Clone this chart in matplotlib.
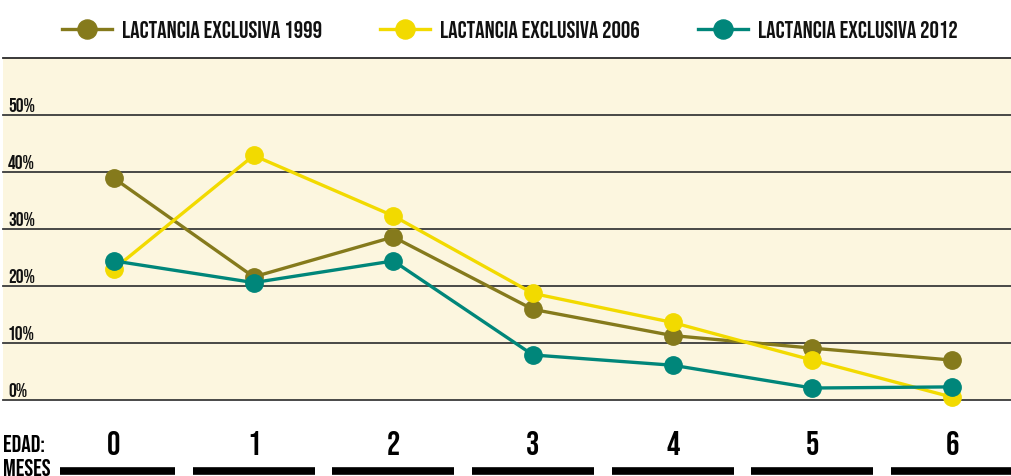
import matplotlib
matplotlib.use("Agg")
import matplotlib.pyplot as plt

plt.rcParams['font.family'] = ['Bebas Neue', 'DejaVu Sans']

meses = [0, 1, 2, 3, 4, 5, 6]
lact_1999 = [38.9, 21.6, 28.6, 15.9, 11.3, 9.1, 7.0]
lact_2006 = [23.0, 42.9, 32.3, 18.7, 13.6, 7.0, 0.5]
lact_2012 = [24.4, 20.6, 24.4, 7.9, 6.1, 2.1, 2.3]
y_ticks = [0, 10, 20, 30, 40, 50]
y_labels = ["0%", "10%", "20%", "30%", "40%", "50%"]

series = [
    ("LACTANCIA EXCLUSIVA 1999", lact_1999, "#857a1c"),
    ("LACTANCIA EXCLUSIVA 2006", lact_2006, "#f2da00"),
    ("LACTANCIA EXCLUSIVA 2012", lact_2012, "#00867a"),
]

W, H = 1012, 477
fig = plt.figure(figsize=(W / 100, H / 100), dpi=100)

# main plot area (pixel box: x 3..1012, y 59..401)
ax = fig.add_axes([3 / W, 1 - 401 / H, 1009 / W, 342 / H])
ax.set_facecolor("#fcf6df")
xmin, xmax = -0.795, 6.43
ax.set_xlim(xmin, xmax)
ax.set_ylim(0, 60)
for s in ["left", "right", "bottom"]:
    ax.spines[s].set_visible(False)
ax.spines["top"].set_color("#2a2a2a")
ax.spines["top"].set_linewidth(1.3)
ax.set_xticks([])
ax.set_yticks([])

for v, lab in zip(y_ticks, y_labels):
    ax.axhline(v, color="#3a3a3a", lw=1.3, zorder=1, clip_on=False)
    ax.text(xmin + 0.035, v + 0.7, lab, fontsize=14, ha="left", va="bottom",
            color="#111111")

handles = []
for name, vals, col in series:
    ln, = ax.plot(meses, vals, color=col, lw=2.4, marker="o", ms=12.5,
                  zorder=3, clip_on=False, label=name)
    handles.append(ln)

leg = fig.legend(handles=handles, loc="center", bbox_to_anchor=(510 / W, 1 - 30 / H),
                 ncol=3, frameon=False, fontsize=17, handlelength=2.12,
                 handletextpad=0.42, columnspacing=2.45, markerscale=1.1)
for t in leg.get_texts():
    t.set_color("#111111")

# x axis area with the month labels and bars
bx = fig.add_axes([3 / W, 0, 1009 / W, 1 - 403 / H])
bx.set_xlim(xmin, xmax)
bx.set_ylim(0, 1)
bx.axis("off")
half = 0.437
for m in meses:
    left = max(m - half, xmin + 0.41)
    bx.hlines(0.07, left, m + half, color="black", lw=5.5)
    bx.text(m, 0.46, str(m), fontsize=24, ha="center", va="center", color="black")
bx.text(xmin, 0.45, "EDAD:", fontsize=17, ha="left", va="center", color="black")
bx.text(xmin, 0.13, "MESES", fontsize=17, ha="left", va="center", color="black")

fig.savefig("out.png", dpi=100)
